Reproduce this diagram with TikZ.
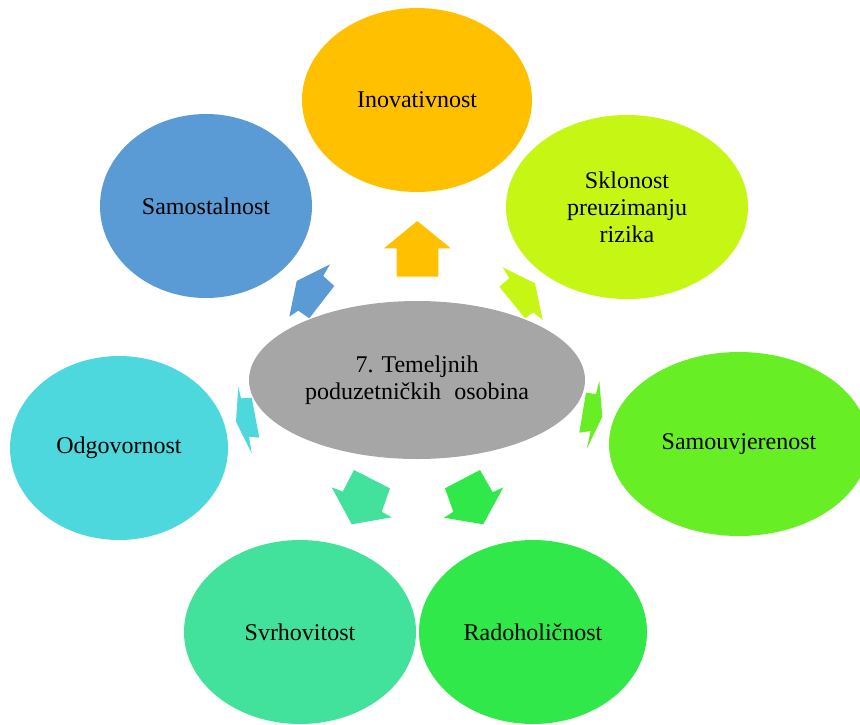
\documentclass[tikz,border=0pt]{standalone}
\usepackage{fontspec}
\setmainfont{Liberation Serif}
\usetikzlibrary{shapes.geometric}
\definecolor{cInov}{HTML}{FFC000}
\definecolor{cSamo}{HTML}{5B9BD5}
\definecolor{cSklo}{HTML}{C6F614}
\definecolor{cOdgo}{HTML}{4DD8DD}
\definecolor{cSamu}{HTML}{68EE24}
\definecolor{cSvrh}{HTML}{42E29C}
\definecolor{cRado}{HTML}{31E84A}
\definecolor{cCent}{HTML}{A6A6A6}
\begin{document}
\begin{tikzpicture}[x=1pt,y=-1pt,
  bub/.style={ellipse, inner sep=0pt, align=center, text=black,
    font=\fontsize{24}{27}\selectfont}]
\clip (0,0) rectangle (860,724);
\useasboundingbox (0,0) rectangle (860,724);
% block arrows
\fill[cInov] (417.3,221) -- (450.7,248.3) -- (438.3,248.3) -- (438.3,276.7) -- (396.7,276.7) -- (396.7,248.3) -- (384,248.3) -- cycle;
\fill[cSamo] (330,264.3) -- (323.3,276) -- (334.3,286) -- (309.3,318.3) -- (298.3,310.7) -- (289.3,316.7) -- (296.7,281) -- cycle;
\fill[cSklo] (502.7,267.3) -- (509.3,278.3) -- (499.3,286.7) -- (525,318.3) -- (533.3,312.3) -- (542.7,320) -- (535,283.3) -- cycle;
\fill[cOdgo] (238.3,386.7) -- (241,398.3) -- (251.7,397.7) -- (259.3,437.7) -- (249,436.7) -- (251.7,453.3) -- (236,421.7) -- cycle;
\fill[cSamu] (599.3,381) -- (596,394) -- (586,392.7) -- (579.3,432.7) -- (590.7,431) -- (586.7,449) -- (602.3,416.7) -- cycle;
\fill[cSvrh] (331.7,487.3) -- (342.7,491.7) -- (354,470) -- (390,488.3) -- (381.7,511.7) -- (391.7,517.3) -- (351.7,524.3) -- cycle;
\fill[cRado] (445,488.3) -- (480,470) -- (492.7,492.3) -- (503.3,487.3) -- (483.3,524.3) -- (444,517.7) -- (453.3,511.7) -- cycle;
% ellipses
\node[bub, fill=cInov, minimum width=230pt, minimum height=184pt] (inov) at (417,100) {Inovativnost};
\node[bub, fill=cSamo, minimum width=212pt, minimum height=184pt] (samo) at (206,206) {Samostalnost};
\node[bub, fill=cSklo, minimum width=242pt, minimum height=184pt] (sklo) at (627,207) {Sklonost\\preuzimanju\\rizika};
\node[bub, fill=cOdgo, minimum width=218pt, minimum height=184pt] (odgo) at (119,448) {Odgovornost};
\node[bub, fill=cSamu, minimum width=260pt, minimum height=184pt] (samu) at (739,444) {Samouvjerenost};
\node[bub, fill=cSvrh, minimum width=232pt, minimum height=184pt] (svrh) at (300,632) {Svrhovitost};
\node[bub, fill=cRado, minimum width=228pt, minimum height=184pt] (rado) at (533,632) {Radoholičnost};
\node[bub, fill=cCent, minimum width=336pt, minimum height=158pt] (cent) at (417,380) {7. Temeljnih\\poduzetničkih\hspace{0.3em} osobina};
\end{tikzpicture}
\end{document}
